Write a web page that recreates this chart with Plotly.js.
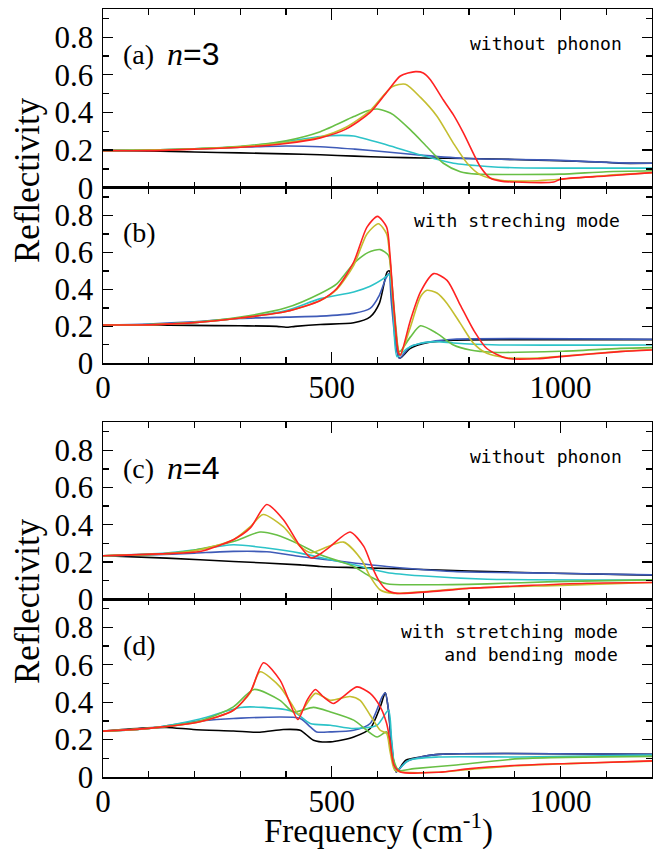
<!DOCTYPE html>
<html>
<head>
<meta charset="utf-8">
<script src="https://cdn.plot.ly/plotly-3.0.1.min.js"></script>
<style>html,body{margin:0;padding:0;background:#fff;}#chart{width:653px;height:849px;}</style>
</head>
<body>
<div id="chart"></div>
<script>
// ---------- data (frequency in cm^-1, reflectivity) ----------
// Panel (a): n=3, without phonon
const a_black_x = [0,100,200,300,400,475,550,621,700,800,900,1000,1100,1128,1200];
const a_black_y = [0.197,0.196,0.19,0.185,0.18,0.175,0.168,0.162,0.158,0.155,0.15,0.143,0.135,0.13,0.13];
const a_blue_x = [0,100,200,300,400,475,550,621,700,800,900,1000,1128,1200];
const a_blue_y = [0.197,0.2,0.206,0.215,0.222,0.218,0.205,0.19,0.172,0.155,0.15,0.145,0.132,0.13];
const a_cyan_x = [0,100,200,300,400,475,520,548,621,694,766,840,900,1000,1200];
const a_cyan_y = [0.197,0.2,0.207,0.218,0.245,0.272,0.278,0.275,0.227,0.174,0.13,0.113,0.106,0.104,0.104];
const a_green_x = [0,100,200,300,400,475,548,580,599,620,635,672,708,744,781,818,900,1000,1100,1200];
const a_green_y = [0.197,0.2,0.207,0.22,0.25,0.298,0.378,0.41,0.418,0.405,0.387,0.307,0.218,0.13,0.085,0.072,0.07,0.072,0.085,0.09];
const a_yellow_x = [0,100,200,300,400,475,530,584,632,661,694,730,766,796,825,869,920,1000,1100,1200];
const a_yellow_y = [0.197,0.2,0.206,0.217,0.24,0.27,0.32,0.41,0.537,0.55,0.48,0.38,0.236,0.13,0.068,0.04,0.035,0.045,0.065,0.08];
const a_red_x = [0,100,200,300,400,475,530,584,621,650,683,700,716,744,766,788,810,825,847,870,900,985,1000,1100,1200];
const a_red_y = [0.197,0.197,0.205,0.215,0.235,0.265,0.31,0.40,0.51,0.594,0.617,0.61,0.573,0.466,0.387,0.29,0.18,0.11,0.05,0.035,0.03,0.03,0.045,0.062,0.08];

// Panel (b): n=3, with stretching mode
const b_black_x = [0,100,190,300,380,400,420,475,548,584,604,621,626,632,640,648,672,708,766,900,1200];
const b_black_y = [0.207,0.207,0.205,0.203,0.2,0.195,0.2,0.21,0.219,0.251,0.324,0.494,0.5,0.34,0.12,0.027,0.081,0.111,0.125,0.128,0.128];
const b_blue_x = [0,100,200,300,400,475,548,584,604,618,625,630,640,648,672,716,766,1200];
const b_blue_y = [0.207,0.213,0.225,0.243,0.25,0.255,0.27,0.297,0.368,0.458,0.485,0.34,0.1,0.027,0.09,0.117,0.13,0.13];
const b_cyan_x = [0,100,200,300,400,475,548,584,613,625,634,643,665,694,730,766,850,1200];
const b_cyan_y = [0.207,0.21,0.22,0.245,0.285,0.35,0.386,0.417,0.458,0.48,0.305,0.036,0.081,0.108,0.117,0.11,0.1,0.099];
const b_green_x = [0,100,200,300,400,475,511,548,580,606,624,631,640,648,672,694,730,766,803,850,1000,1131,1200];
const b_green_y = [0.207,0.21,0.222,0.25,0.3,0.378,0.43,0.54,0.6,0.615,0.584,0.45,0.2,0.063,0.143,0.203,0.162,0.099,0.072,0.06,0.065,0.081,0.085];
const b_yellow_x = [0,100,200,300,400,475,511,548,577,602,620,627,635,646,650,672,694,708,730,752,781,810,839,883,950,1000,1131,1200];
const b_yellow_y = [0.207,0.208,0.22,0.245,0.28,0.34,0.4,0.53,0.70,0.755,0.70,0.57,0.3,0.06,0.045,0.197,0.36,0.395,0.38,0.324,0.216,0.108,0.054,0.03,0.028,0.038,0.065,0.075];
const b_red_x = [0,100,200,300,400,475,511,548,577,600,620,627,635,646,650,672,694,723,752,781,810,839,883,950,1000,1131,1200];
const b_red_y = [0.207,0.208,0.22,0.245,0.28,0.34,0.405,0.548,0.737,0.795,0.737,0.594,0.325,0.055,0.045,0.233,0.386,0.485,0.449,0.315,0.18,0.08,0.027,0.025,0.036,0.063,0.072];

// Panel (c): n=4, without phonon
const c_black_x = [0,139,285,431,475,548,700,800,985,1200];
const c_black_y = [0.234,0.221,0.203,0.185,0.176,0.17,0.16,0.152,0.14,0.13];
const c_blue_x = [0,100,200,285,358,431,480,620,766,985,1200];
const c_blue_y = [0.234,0.238,0.248,0.257,0.255,0.23,0.215,0.176,0.149,0.14,0.131];
const c_cyan_x = [0,139,200,285,358,431,497,548,620,694,840,1200];
const c_cyan_y = [0.234,0.248,0.265,0.293,0.275,0.248,0.212,0.185,0.144,0.126,0.108,0.104];
const c_green_x = [0,139,200,285,343,380,431,475,518,548,584,620,694,840,985,1200];
const c_green_y = [0.234,0.245,0.265,0.31,0.361,0.345,0.293,0.239,0.203,0.176,0.122,0.083,0.078,0.083,0.095,0.104];
const c_yellow_x = [0,139,200,285,322,350,394,431,455,475,526,565,584,606,636,694,800,1000,1200];
const c_yellow_y = [0.234,0.245,0.26,0.32,0.39,0.455,0.39,0.284,0.25,0.266,0.307,0.212,0.122,0.05,0.032,0.04,0.06,0.075,0.09];
const c_red_x = [0,139,212,285,322,358,394,431,455,475,497,540,570,588,602,620,643,716,803,912,1058,1200];
const c_red_y = [0.234,0.245,0.257,0.32,0.383,0.509,0.428,0.284,0.222,0.244,0.284,0.361,0.284,0.176,0.104,0.05,0.032,0.041,0.059,0.072,0.086,0.09];

// Panel (d): n=4, with stretching and bending modes
const d_black_x = [0,80,139,197,285,343,394,431,460,497,548,584,606,617,624,631,641,662,694,734,1200];
const d_black_y = [0.245,0.26,0.265,0.254,0.246,0.239,0.254,0.25,0.197,0.188,0.214,0.259,0.375,0.45,0.357,0.16,0.027,0.09,0.107,0.121,0.121];
const d_blue_x = [0,100,212,285,431,453,467,497,548,584,610,617,624,631,641,662,694,734,1200];
const d_blue_y = [0.245,0.26,0.30,0.313,0.313,0.268,0.241,0.241,0.25,0.286,0.428,0.45,0.357,0.179,0.027,0.08,0.107,0.121,0.121];
const d_cyan_x = [0,100,212,300,350,416,453,497,548,599,624,631,641,669,734,912,1200];
const d_cyan_y = [0.245,0.26,0.31,0.372,0.372,0.35,0.286,0.277,0.259,0.277,0.357,0.197,0.036,0.09,0.107,0.107,0.118];
const d_green_x = [0,100,212,285,330,387,416,460,497,548,599,620,631,646,680,766,912,1200];
const d_green_y = [0.245,0.26,0.30,0.375,0.468,0.41,0.348,0.372,0.348,0.304,0.214,0.241,0.125,0.036,0.045,0.063,0.098,0.11];
const d_yellow_x = [0,100,212,285,322,343,387,416,428,464,497,540,562,584,606,620,627,638,660,730,800,900,1058,1200];
const d_yellow_y = [0.245,0.26,0.295,0.357,0.45,0.562,0.482,0.375,0.335,0.447,0.41,0.43,0.41,0.33,0.25,0.232,0.143,0.036,0.025,0.025,0.04,0.06,0.075,0.085];
const d_red_x = [0,100,212,285,322,351,387,409,426,446,464,482,504,525,555,584,606,620,627,636,650,734,803,912,1058,1200];
const d_red_y = [0.245,0.26,0.295,0.357,0.455,0.611,0.518,0.393,0.307,0.41,0.468,0.428,0.393,0.43,0.482,0.447,0.375,0.286,0.197,0.063,0.027,0.025,0.045,0.063,0.075,0.086];

const seriesNames = ['black','blue','cyan','green','yellow','red'];
const seriesColors = {black:'#000000', blue:'#3f5bb8', cyan:'#2cc3c8', green:'#68bf45', yellow:'#c4be30', red:'#ff2222'};
const panelData = {
  a: {black:[a_black_x,a_black_y], blue:[a_blue_x,a_blue_y], cyan:[a_cyan_x,a_cyan_y], green:[a_green_x,a_green_y], yellow:[a_yellow_x,a_yellow_y], red:[a_red_x,a_red_y]},
  b: {black:[b_black_x,b_black_y], blue:[b_blue_x,b_blue_y], cyan:[b_cyan_x,b_cyan_y], green:[b_green_x,b_green_y], yellow:[b_yellow_x,b_yellow_y], red:[b_red_x,b_red_y]},
  c: {black:[c_black_x,c_black_y], blue:[c_blue_x,c_blue_y], cyan:[c_cyan_x,c_cyan_y], green:[c_green_x,c_green_y], yellow:[c_yellow_x,c_yellow_y], red:[c_red_x,c_red_y]},
  d: {black:[d_black_x,d_black_y], blue:[d_blue_x,d_blue_y], cyan:[d_cyan_x,d_cyan_y], green:[d_green_x,d_green_y], yellow:[d_yellow_x,d_yellow_y], red:[d_red_x,d_red_y]}
};
const yTickVals = [0,0.2,0.4,0.6,0.8];
const yTickText = ['0','0.2','0.4','0.6','0.8'];
const xTickVals = [0,500,1000];
const xTickText = ['0','500','1000'];

// ---------- layout helpers ----------
const W = 653, H = 849;
const mL = 103, mR = 1, mT = 9, mB = 72;
const pw = W - mL - mR, ph = H - mT - mB;
const pxX = px => (px - mL) / pw;
const pxY = py => (H - mB - py) / ph;

const panels = ['a','b','c','d'];
const domains = {
  a: [pxY(187.7), 1],
  b: [pxY(363.3), pxY(187.7)],
  c: [pxY(599.3), pxY(422.3)],
  d: [0, pxY(599.3)]
};

const traces = [];
panels.forEach((p, i) => {
  const sfx = i === 0 ? '' : String(i + 1);
  seriesNames.forEach(s => {
    const [xs, ys] = panelData[p][s];
    traces.push({
      x: xs, y: ys, type: 'scatter', mode: 'lines',
      xaxis: 'x' + sfx, yaxis: 'y' + sfx,
      line: {color: seriesColors[s], width: 1.6, shape: 'spline', smoothing: 0.7},
      showlegend: false, hoverinfo: 'skip'
    });
  });
});

const serif = 'Liberation Serif';
const mono = 'DejaVu Sans Mono';

const layout = {
  width: W, height: H,
  margin: {l: mL, r: mR, t: mT, b: mB, pad: 0},
  paper_bgcolor: '#ffffff', plot_bgcolor: '#ffffff',
  font: {family: serif, size: 31, color: '#000'},
  showlegend: false,
  annotations: []
};

panels.forEach((p, i) => {
  const sfx = i === 0 ? '' : String(i + 1);
  const showX = (p === 'b' || p === 'd');
  layout['xaxis' + sfx] = {
    domain: [0, 1], anchor: 'y' + sfx, range: [0, 1200],
    showline: true, linecolor: '#000', linewidth: 1.5, mirror: 'ticks',
    ticks: 'inside', ticklen: 11, tickwidth: 1.3, tickcolor: '#000',
    tickvals: xTickVals, ticktext: xTickText, showticklabels: showX,
    minor: {tickvals: [100,200,300,400,600,700,800,900,1100], ticks: 'inside', ticklen: 6, tickwidth: 1.3, tickcolor: '#000', showgrid: false},
    showgrid: false, zeroline: false, ticklabelstandoff: -4,
    tickfont: {family: serif, size: 31, color: '#000'}
  };
  layout['yaxis' + sfx] = {
    domain: domains[p], anchor: 'x' + sfx, range: [0, 0.95],
    showline: true, linecolor: '#000', linewidth: 1.5, mirror: 'ticks',
    ticks: 'inside', ticklen: 10, tickwidth: 1.3, tickcolor: '#000',
    tickvals: yTickVals, ticktext: yTickText,
    minor: {tickvals: [0.1,0.3,0.5,0.7,0.9], ticks: 'inside', ticklen: 6, tickwidth: 1.3, tickcolor: '#000', showgrid: false},
    showgrid: false, zeroline: false, ticklabelstandoff: 2,
    tickfont: {family: serif, size: 31, color: '#000'}
  };
});

function ann(text, px, py, opts) {
  return Object.assign({
    text: text, xref: 'paper', yref: 'paper', x: pxX(px), y: pxY(py),
    showarrow: false, xanchor: 'left', yanchor: 'middle',
    font: {family: serif, size: 28, color: '#000'}
  }, opts || {});
}

const nFont = '<span style="font-family:Liberation Sans">';
layout.annotations.push(
  ann('(a)', 121, 54),
  ann('<i>n</i>' + nFont + '=3</span>', 165, 54, {font: {family: serif, size: 32, color: '#000'}}),
  ann('without phonon', 624, 43, {xanchor: 'right', font: {family: mono, size: 18, color: '#000'}}),
  ann('(b)', 121, 233),
  ann('with streching mode', 622, 220, {xanchor: 'right', font: {family: mono, size: 18, color: '#000'}}),
  ann('(c)', 121, 468),
  ann('<i>n</i>' + nFont + '=4</span>', 165, 468, {font: {family: serif, size: 32, color: '#000'}}),
  ann('without phonon', 624, 456, {xanchor: 'right', font: {family: mono, size: 18, color: '#000'}}),
  ann('(d)', 121, 645),
  ann('with stretching mode<br>and bending mode', 620, 643, {xanchor: 'right', align: 'right', font: {family: mono, size: 18, color: '#000'}}),
  ann('Reflectivity', 27, 180, {xanchor: 'center', textangle: -90, font: {family: serif, size: 35, color: '#000'}}),
  ann('Reflectivity', 27, 601, {xanchor: 'center', textangle: -90, font: {family: serif, size: 35, color: '#000'}}),
  ann('Frequency (cm<sup>-1</sup>)', 378, 828, {xanchor: 'center', font: {family: serif, size: 33, color: '#000'}})
);

Plotly.newPlot('chart', traces, layout, {staticPlot: true, displayModeBar: false});
</script>
</body>
</html>
